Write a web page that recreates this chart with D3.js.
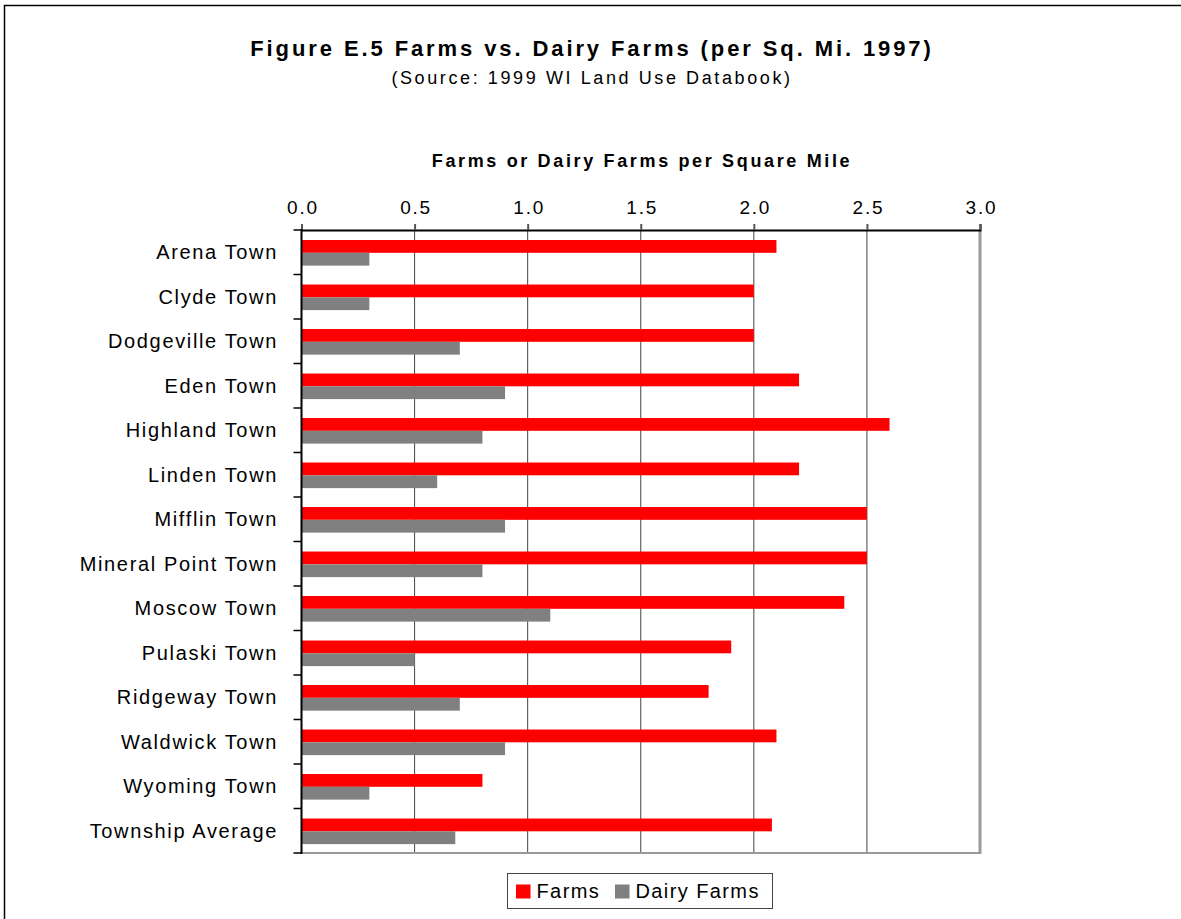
<!DOCTYPE html>
<html><head><meta charset="utf-8">
<script src="https://cdn.jsdelivr.net/npm/d3@7/dist/d3.min.js"></script>
<style>body{margin:0;background:#fff;} svg{display:block;}</style>
</head><body>
<svg id="c" width="1181" height="919"></svg>
<script>
const categories = ["Arena Town","Clyde Town","Dodgeville Town","Eden Town","Highland Town","Linden Town","Mifflin Town","Mineral Point Town","Moscow Town","Pulaski Town","Ridgeway Town","Waldwick Town","Wyoming Town","Township Average"];
const farms = [2.1,2.0,2.0,2.2,2.6,2.2,2.5,2.5,2.4,1.9,1.8,2.1,0.8,2.08];
const dairyFarms = [0.3,0.3,0.7,0.9,0.8,0.6,0.9,0.8,1.1,0.5,0.7,0.9,0.3,0.68];
const seriesNames = ["Farms","Dairy Farms"];
const seriesColors = ["#ff0000","#808080"];
const xTicks = [0,0.5,1.0,1.5,2.0,2.5,3.0];

const svg = d3.select("#c");
const font = "Liberation Sans, Arial, sans-serif";
const L = 301.5, R = 980, T = 230, B = 853;

// outer border
svg.append("rect").attr("x",4.5).attr("y",5.5).attr("width",1300).attr("height",1000)
  .attr("fill","none").attr("stroke","#000").attr("stroke-width",1.5);

const x = d3.scaleLinear().domain([0,3]).range([L,R]);
const y = d3.scaleBand().domain(categories).range([T,B]).paddingInner(0).paddingOuter(0);
const inner = d3.scaleBand().domain(seriesNames).range([0,y.bandwidth()]).paddingInner(0).paddingOuter(0.738).align(0.53);

// gridlines
svg.append("g").selectAll("line").data(xTicks.filter(d=>d>0 && d<3)).join("line")
  .attr("x1",d=>x(d)).attr("x2",d=>x(d)).attr("y1",T).attr("y2",B)
  .attr("stroke","#444").attr("stroke-width",1);

// bars
const data = categories.map((c,i)=>({c, vals:[farms[i],dairyFarms[i]]}));
const g = svg.append("g");
data.forEach(d=>{
  d.vals.forEach((v,j)=>{
    g.append("rect").attr("x",x(0)).attr("y",y(d.c)+inner(seriesNames[j]))
      .attr("width",x(v)-x(0)).attr("height",inner.bandwidth()).attr("fill",seriesColors[j]);
  });
});

// right & bottom frame (gray)
svg.append("line").attr("x1",R).attr("x2",R).attr("y1",T).attr("y2",B+1).attr("stroke","#999").attr("stroke-width",3);
svg.append("line").attr("x1",L).attr("x2",R).attr("y1",B).attr("y2",B).attr("stroke","#999").attr("stroke-width",2);

// top axis
const xAxis = d3.axisTop(x).tickValues(xTicks).tickFormat(d3.format(".1f")).tickSize(6).tickPadding(10);
const ax = svg.append("g").attr("transform",`translate(0,${T})`).call(xAxis);
ax.select(".domain").attr("stroke","#000").attr("stroke-width",2);
ax.selectAll(".tick line").attr("stroke","#555").attr("stroke-width",2);
ax.selectAll("text").attr("font-family",font).attr("font-size",19).attr("letter-spacing",1.8)
  .attr("dx",1).attr("fill","#000");

// left axis with ticks at band boundaries
const bounds = categories.map(c=>y(c)).concat([B]);
svg.append("g").selectAll("line").data(bounds).join("line")
  .attr("x1",L-8).attr("x2",L).attr("y1",d=>d).attr("y2",d=>d).attr("stroke","#000").attr("stroke-width",1.5);
svg.append("line").attr("x1",L).attr("x2",L).attr("y1",T-1).attr("y2",B+1).attr("stroke","#000").attr("stroke-width",2);
svg.append("g").selectAll("text").data(categories).join("text")
  .attr("x",278).attr("y",d=>y(d)+y.bandwidth()/2+7)
  .attr("text-anchor","end").attr("font-family",font).attr("font-size",20).attr("letter-spacing",1.65)
  .text(d=>d);

// titles
svg.append("text").attr("x",592).attr("y",56).attr("text-anchor","middle")
  .attr("font-family",font).attr("font-size",22).attr("font-weight","bold").attr("letter-spacing",2.9)
  .text("Figure E.5 Farms vs. Dairy Farms (per Sq. Mi. 1997)");
svg.append("text").attr("x",592).attr("y",84).attr("text-anchor","middle")
  .attr("font-family",font).attr("font-size",18).attr("letter-spacing",2.6)
  .text("(Source: 1999 WI Land Use Databook)");
svg.append("text").attr("x",642).attr("y",167).attr("text-anchor","middle")
  .attr("font-family",font).attr("font-size",18).attr("font-weight","bold").attr("letter-spacing",2.65)
  .text("Farms or Dairy Farms per Square Mile");

// legend
const lg = svg.append("g");
lg.append("rect").attr("x",507.5).attr("y",873.5).attr("width",265).attr("height",35).attr("fill","#fff").attr("stroke","#444").attr("stroke-width",1);
const lx = [516,615];
seriesNames.forEach((n,i)=>{
  lg.append("rect").attr("x",lx[i]).attr("y",884.5).attr("width",14.5).attr("height",14).attr("fill",seriesColors[i]);
  lg.append("text").attr("x",lx[i]+20.5).attr("y",898).attr("font-family",font).attr("font-size",20).attr("letter-spacing",1.4).text(n);
});
</script>
</body></html>
